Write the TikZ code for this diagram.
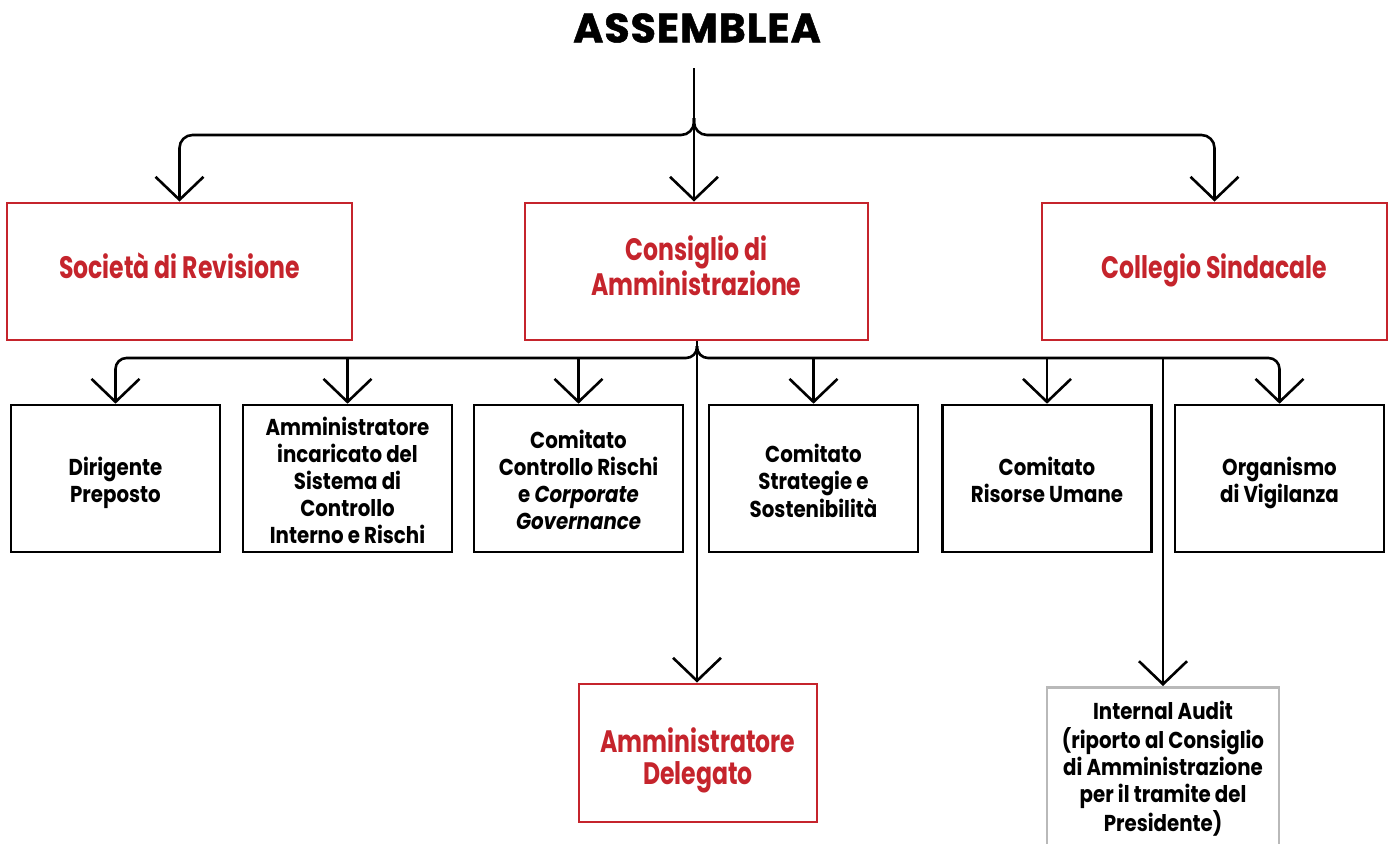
\documentclass[tikz,border=0pt]{standalone}
\usepackage{fontspec}
\setmainfont{Poppins}[FakeStretch=0.86]
\newfontfamily\titlefont{Poppins}[LetterSpace=2.5, FakeBold=1.2]
\newfontfamily\redfamily{Poppins}[FakeStretch=0.76]
\usetikzlibrary{arrows.meta}
\definecolor{cred}{RGB}{197,36,44}
\definecolor{cgray}{RGB}{185,185,185}
\newcommand\redfnt{\redfamily\fontsize{31}{32}\selectfont\bfseries}
\newcommand\blkfnt{\fontsize{23}{27}\selectfont\bfseries}
\newcommand\shifttext[2]{\raisebox{#1}[\height][\depth]{\begin{tabular}{@{}c@{}}#2\end{tabular}}}
\tikzset{
  redbox/.style={draw=cred, line width=2.8pt, text=cred, align=center, inner sep=0pt, font=\redfnt},
  blackbox/.style={draw=black, line width=2.6pt, align=center, inner sep=0pt, font=\blkfnt, minimum width=209pt, minimum height=147pt},
  graybox/.style={draw=cgray, line width=2.6pt, inner sep=0pt, minimum width=232pt, minimum height=200pt},
  plaintext/.style={align=center, inner sep=0pt, font=\blkfnt},
  conn/.style={line width=2.6pt, draw=black},
  arr/.style={conn, -{Straight Barb[length=23pt,width=48pt]}},
}
\begin{document}
\begin{tikzpicture}[x=1pt,y=-1pt]
\useasboundingbox (0,0) rectangle (1391,843);
\clip (0,0) rectangle (1391,843);
% title
\node[inner sep=0pt, font=\titlefont\fontsize{41}{44}\selectfont\bfseries] (assem) at (697,28) {ASSEMBLEA};
% level 1
\node[redbox, minimum width=345pt, minimum height=137pt] (soc) at (179.5,271.5) {\shifttext{1pt}{Società di Revisione}};
\node[redbox, minimum width=343pt, minimum height=137pt] (cda) at (696.5,271.5) {\shifttext{1pt}{Consiglio di\\Amministrazione}};
\node[redbox, minimum width=345pt, minimum height=137pt] (col) at (1214.5,271.5) {\shifttext{1pt}{Collegio Sindacale}};
% level 2
\node[blackbox] (dir) at (115.5,478.5) {\shifttext{-5pt}{Dirigente\\Preposto}};
\node[blackbox] (ami) at (347.5,478.5) {\shifttext{-6pt}{Amministratore\\incaricato del\\Sistema di\\Controllo\\Interno e Rischi}};
\node[blackbox] (ccr) at (578.5,478.5) {\shifttext{-5pt}{Comitato\\Controllo Rischi\\e \textit{Corporate}\\\textit{Governance}}};
\node[blackbox] (css) at (813.5,478.5) {\shifttext{-6pt}{Comitato\\Strategie e\\Sostenibilità}};
\node[blackbox] (cru) at (1047,478.5) {\shifttext{-5pt}{Comitato\\Risorse Umane}};
\node[blackbox] (odv) at (1279.5,478.5) {\shifttext{-5pt}{Organismo\\di Vigilanza}};
% level 3
\node[redbox, minimum width=238pt, minimum height=138pt] (ad) at (698,753) {\shifttext{-8pt}{Amministratore\\Delegato}};
\node[graybox, anchor=north] (ia) at (1163,686) {};
\node[plaintext] (iatext) at (1163,768) {\shifttext{-2pt}{Internal Audit\\(riporto al Consiglio\\di Amministrazione\\per il tramite del\\Presidente)}};
% connectors top
\coordinate (top) at (694,68);
\coordinate (bus1) at (694,135);
\coordinate (split1) at (694,118);
\draw[arr] (top) -- (cda.north -| top);
\draw[arr, rounded corners=13pt] (split1) -- (bus1) -- (soc.north |- bus1) -- (soc.north);
\draw[arr, rounded corners=13pt] (split1) -- (bus1) -- (col.north |- bus1) -- (col.north);
% connectors second
\coordinate (bus2) at (697,358);
\coordinate (split2) at (697,346);
\draw[arr] (cda.south -| bus2) -- (ad.north -| bus2);
\draw[arr, rounded corners=11pt] (split2) -- (bus2) -- (dir.north |- bus2) -- (dir.north);
\draw[arr, rounded corners=11pt] (split2) -- (bus2) -- (odv.north |- bus2) -- (odv.north);
\draw[arr] (ami.north |- bus2) -- (ami.north);
\draw[arr] (ccr.north |- bus2) -- (ccr.north);
\draw[arr] (css.north |- bus2) -- (css.north);
\draw[arr] (cru.north |- bus2) -- (cru.north);
\draw[arr] (ia.north |- bus2) -- (ia.north);
\end{tikzpicture}
\end{document}
